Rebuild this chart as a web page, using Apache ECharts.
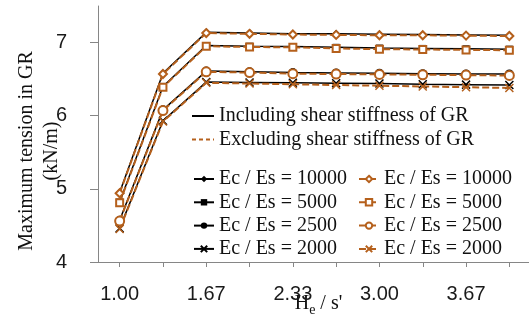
<!DOCTYPE html>
<html>
<head>
<meta charset="utf-8">
<script src="https://cdn.jsdelivr.net/npm/echarts@6/dist/echarts.min.js"></script>
<style>html,body{margin:0;padding:0;background:#fff}#c{width:529px;height:328px}</style>
</head>
<body>
<div id="c"></div>
<script>
const categories = ['1.00','1.33','1.67','2.00','2.33','2.67','3.00','3.33','3.67','4.00'];
const yTicks = [4, 5, 6, 7];
const legendLabel = 'Ec / Es = ';
const ratios = ['10000', '5000', '2500', '2000'];
// Including shear stiffness of GR (black, solid)
const inc10000 = [4.95, 6.58, 7.14, 7.13, 7.12, 7.12, 7.115, 7.11, 7.105, 7.10];
const inc5000  = [4.82, 6.40, 6.96, 6.95, 6.945, 6.935, 6.925, 6.92, 6.915, 6.91];
const inc2500  = [4.57, 6.08, 6.61, 6.60, 6.59, 6.585, 6.58, 6.575, 6.57, 6.57];
const inc2000  = [4.46, 5.93, 6.46, 6.455, 6.45, 6.445, 6.44, 6.43, 6.425, 6.42];
// Excluding shear stiffness of GR (orange, dashed)
const exc10000 = [4.94, 6.57, 7.13, 7.12, 7.11, 7.105, 7.10, 7.10, 7.095, 7.09];
const exc5000  = [4.81, 6.39, 6.95, 6.94, 6.935, 6.92, 6.91, 6.905, 6.90, 6.895];
const exc2500  = [4.56, 6.07, 6.60, 6.59, 6.575, 6.57, 6.565, 6.56, 6.555, 6.55];
const exc2000  = [4.45, 5.92, 6.45, 6.44, 6.43, 6.42, 6.41, 6.40, 6.39, 6.38];

const BLACK = '#000000';
const ORANGE = '#B5601C';
const AXIS = '#868686';
const SERIF = '"Liberation Serif", "Times New Roman", serif';
const SANS = '"Liberation Sans", Arial, sans-serif';
const XPATH = 'path://M0,0L10,10M10,0L0,10';

const incData = [inc10000, inc5000, inc2500, inc2000];
const excData = [exc10000, exc5000, exc2500, exc2000];
const incSym = ['diamond', 'rect', 'circle', XPATH];
const excSym = ['emptyDiamond', 'emptyRect', 'emptyCircle', XPATH];
const symSize = [8, 7, 9, 8];

const series = [];
// dummy series for the style legend
series.push({name: 'Including shear stiffness of GR', type: 'line', data: [], symbol: 'none',
  lineStyle: {color: BLACK, width: 1.5, type: 'solid'}, itemStyle: {color: BLACK}});
series.push({name: 'Excluding shear stiffness of GR', type: 'line', data: [], symbol: 'none',
  lineStyle: {color: ORANGE, width: 1.5, type: [4, 3]}, itemStyle: {color: ORANGE}});
const incNames = [], excNames = [];
ratios.forEach((r, i) => {
  const n = 'inc' + r;
  incNames.push(n);
  series.push({
    name: n, type: 'line', data: incData[i], symbol: incSym[i], symbolSize: symSize[i],
    lineStyle: {color: BLACK, width: 1.5},
    itemStyle: i === 3 ? {color: BLACK, borderColor: BLACK, borderWidth: 1.5} : {color: BLACK},
    z: 2, animation: false
  });
});
ratios.forEach((r, i) => {
  const n = 'exc' + r;
  excNames.push(n);
  series.push({
    name: n, type: 'line', data: excData[i], symbol: excSym[i], symbolSize: symSize[i],
    lineStyle: {color: ORANGE, width: 2, type: [7, 3]},
    itemStyle: i === 3 ? {color: ORANGE, borderColor: ORANGE, borderWidth: 1.5} : {color: ORANGE, borderWidth: 1.3},
    z: 3, animation: false
  });
});
const fmt = (name) => legendLabel + name.replace(/^(inc|exc)/, '');
const legText = {fontFamily: SERIF, fontSize: 20, color: '#111', lineHeight: 20};

const chart = echarts.init(document.getElementById('c'), null, {renderer: 'canvas'});
chart.setOption({
  animation: false,
  backgroundColor: '#fff',
  grid: {left: 98, right: -2, top: 6, bottom: 66, containLabel: false, outerBoundsMode: 'none'},
  legend: [
    {orient: 'vertical', left: 186, top: 101, itemWidth: 22, itemHeight: 8, itemGap: 3.5, padding: 5,
     data: [
       {name: 'Including shear stiffness of GR', itemStyle: {opacity: 0}},
       {name: 'Excluding shear stiffness of GR', itemStyle: {opacity: 0}}
     ], textStyle: legText, selectedMode: false},
    {orient: 'vertical', left: 188, top: 164, itemWidth: 20, itemHeight: 8, itemGap: 3.3, padding: 5,
     data: incNames, formatter: fmt, textStyle: legText, selectedMode: false},
    {orient: 'vertical', left: 353, top: 164, itemWidth: 20, itemHeight: 8, itemGap: 3.3, padding: 5,
     data: excNames, formatter: fmt, textStyle: legText, selectedMode: false}
  ],
  xAxis: {
    type: 'category', data: categories, boundaryGap: true,
    axisLine: {lineStyle: {color: AXIS, width: 1}},
    axisTick: {show: true, interval: 0, alignWithLabel: true, length: 5, lineStyle: {color: AXIS}},
    axisLabel: {interval: 1, margin: 22, fontFamily: SANS, fontSize: 20, color: '#1a1a1a'},
    splitLine: {show: false},
    name: '{h|H}{s|e}{h| / s\'}', nameLocation: 'middle', nameGap: 30, nameMoveOverlap: false,
    nameTextStyle: {padding: [0, 0, 0, 8], rich: {
      h: {fontFamily: SERIF, fontSize: 20, color: '#111', lineHeight: 24},
      s: {fontFamily: SERIF, fontSize: 14, color: '#111', lineHeight: 24, padding: [12, 0, 0, 0]}
    }}
  },
  yAxis: {
    type: 'value', min: 4, max: 7.5, interval: 1,
    axisLine: {show: true, lineStyle: {color: AXIS, width: 1}},
    axisTick: {show: true, length: 8, customValues: yTicks, lineStyle: {color: AXIS}},
    axisLabel: {margin: 31, customValues: yTicks, fontFamily: SANS, fontSize: 20, color: '#1a1a1a'},
    splitLine: {show: false},
    name: 'Maximum tension in GR\n(kN/m)', nameLocation: 'middle', nameGap: 34, nameRotate: 90, nameMoveOverlap: false,
    nameTextStyle: {fontFamily: SERIF, fontSize: 20, color: '#111', lineHeight: 25, padding: [0, 34, 0, 0]}
  },
  series: series
});
</script>
</body>
</html>
